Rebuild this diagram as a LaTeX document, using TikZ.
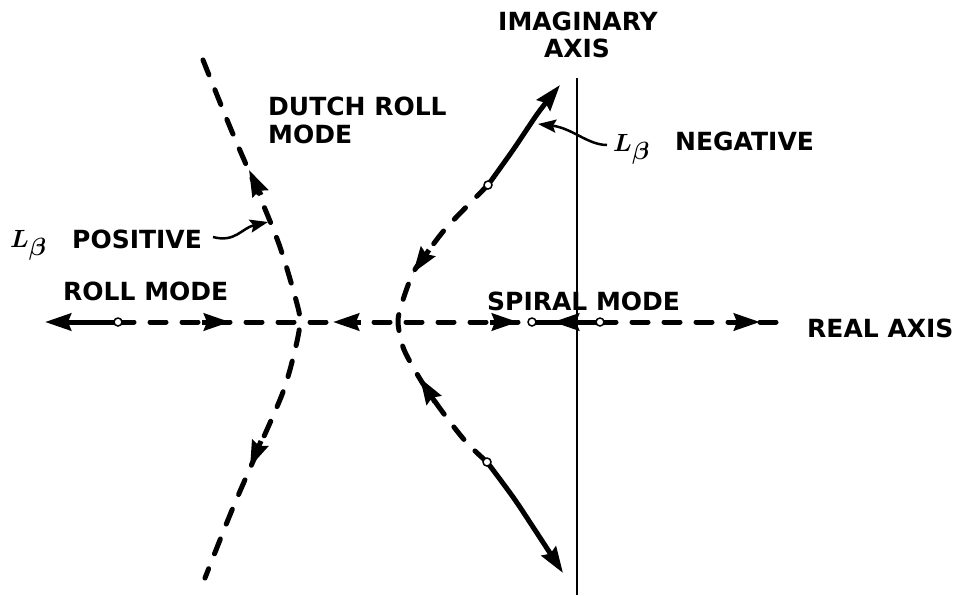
\documentclass[tikz,border=0pt]{standalone}
\usepackage{fontspec}
\setmainfont{DejaVu Sans}
\usetikzlibrary{arrows.meta}

\begin{document}
\begin{tikzpicture}[x=1pt, y=-1pt, >={Stealth[length=26pt, width=17pt, inset=3pt]},
    locus/.style={line width=5pt, dash pattern=on 16pt off 16pt, line cap=round},
    branch/.style={line width=5pt, line cap=round},
    flow/.style={line width=5pt, ->},
    pointer/.style={line width=2.5pt, -{Stealth[length=18pt, width=13pt, inset=3pt]}},
    pole/.style={circle, draw, fill=white, line width=1.5pt, inner sep=0pt, minimum size=8pt},
    lbl/.style={font=\fontsize{25}{28}\selectfont\bfseries, inner sep=0pt},
    lsym/.style={font=\fontsize{27}{30}\selectfont\boldmath, inner sep=0pt}]
  \useasboundingbox (0,0) rectangle (963,595);

  % Points on the real axis
  \coordinate (west) at (45,322);
  \coordinate (roll) at (118,322);
  \coordinate (zero) at (532,322);
  \coordinate (spiral) at (600,322);
  \coordinate (east) at (788,322);

  % Poles of the right branch
  \coordinate (p1) at (488,185);
  \coordinate (p2) at (487,462);

  % Imaginary axis
  \coordinate (itop) at (577,78);
  \coordinate (ibot) at (577,595);
  \draw[line width=2.5pt] (itop) -- (ibot);

  % Real axis
  \draw[branch, <-] (west) -- (roll);
  \draw[locus] (roll) -- (zero);
  \draw[branch] (zero) -- (spiral);
  \draw[locus] (spiral) -- (east);
  \draw[flow] (202,322) -- (230,322);
  \draw[flow] (361,322) -- (333,322);
  \draw[flow] (490,322) -- (518,322);
  \draw[flow] (581,322) -- (553,322);
  \draw[flow] (732,322) -- (760,322);

  % Left branch (Dutch roll, L_beta positive)
  \draw[locus] plot[smooth] coordinates {(203,60) (230,127) (260,197) (280,247) (296,300)
    (300,322) (295,350) (283,392) (258,450) (232,510) (205,578)};
  \draw[flow] (261,195) -- (249,170);
  \draw[flow] (261,441) -- (250,467);

  % Right branch (L_beta negative)
  \draw[branch, ->] plot[smooth] coordinates {(p1) (513,150) (538,113) (560,85)};
  \draw[locus] plot[smooth] coordinates {(p1) (447,227) (427,253) (413,273) (402,303)
    (398,322) (403,347) (413,367) (427,390) (447,418) (467,443) (p2)};
  \draw[branch, ->] plot[smooth] coordinates {(p2) (513,497) (533,527) (563,573)};
  \draw[flow] (429,250) -- (413,273);
  \draw[flow] (435,402) -- (420,378);

  % Poles and zero
  \node[pole] (rollpole) at (roll) {};
  \node[pole] (zeropt) at (zero) {};
  \node[pole] (spiralpole) at (spiral) {};
  \node[pole] (upperpole) at (p1) {};
  \node[pole] (lowerpole) at (p2) {};

  % Labels
  \node[lbl, anchor=base] (imag) at (578,30) {IMAGINARY};
  \node[lbl, anchor=base] (imaxis) at (577,57) {AXIS};
  \node[lbl, anchor=base west] (dutch) at (268,115) {DUTCH ROLL};
  \node[lbl, anchor=base west] (dutchmode) at (268,143) {MODE};
  \node[lsym, anchor=base west] (lpos) at (10,247) {$L_{\textstyle\beta}$};
  \node[lbl, anchor=base west] (positive) at (72,248) {POSITIVE};
  \node[lbl, anchor=base west] (rollmode) at (63,300) {ROLL MODE};
  \node[lbl, anchor=base west] (spiralmode) at (487,310) {SPIRAL MODE};
  \node[lbl, anchor=base west] (realaxis) at (807,337) {REAL AXIS};
  \node[lsym, anchor=base west] (lneg) at (613,151) {$L_{\textstyle\beta}$};
  \node[lbl, anchor=base west] (negative) at (675,150) {NEGATIVE};

  % Pointers
  \coordinate (postail) at (213,237);
  \coordinate (postip) at (268,222);
  \coordinate (negtail) at (607,145);
  \coordinate (negtip) at (538,124);
  \draw[pointer] (postail) .. controls (235,243) and (242,228) .. (postip);
  \draw[pointer] (negtail) .. controls (588,145) and (572,128) .. (negtip);
\end{tikzpicture}
\end{document}
